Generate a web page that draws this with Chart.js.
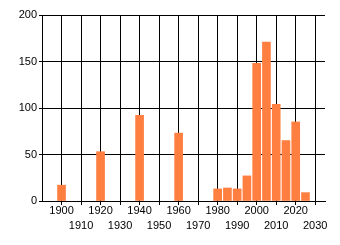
<!DOCTYPE html>
<html>
<head>
<meta charset="utf-8">
<script src="https://cdn.jsdelivr.net/npm/chart.js@4/dist/chart.umd.min.js"></script>
<style>
    html, body { margin: 0; padding: 0; background: #fff; }
    #wrap { width: 340px; height: 245px; }
</style>
</head>
<body>
<div id="wrap"><canvas id="chart"></canvas></div>
<script>
// data
const years = [1900, 1920, 1940, 1960, 1980, 1985, 1990, 1995, 2000, 2005, 2010, 2015, 2020, 2025];
const counts = [17, 53, 92, 73, 13, 14, 13, 27, 148, 171, 104, 65, 85, 9];
const xTicks = [1900, 1910, 1920, 1930, 1940, 1950, 1960, 1970, 1980, 1990, 2000, 2010, 2020, 2030];
const yTicks = [0, 50, 100, 150, 200];

const barColor = '#FF7F41';
const tickFont = { family: 'Liberation Sans, Arial, sans-serif', size: 11 };

const points = years.map((year, i) => ({ x: year, y: counts[i] }));

new Chart(document.getElementById('chart'), {
    type: 'bar',
    data: {
        datasets: [{
            data: points,
            backgroundColor: barColor,
            borderWidth: 0,
            barThickness: 8
        }]
    },
    options: {
        responsive: true,
        maintainAspectRatio: false,
        animation: false,
        layout: { padding: { top: 15, right: 15, bottom: 0, left: 0 } },
        plugins: {
            legend: { display: false },
            tooltip: { enabled: false }
        },
        scales: {
            x: {
                type: 'linear',
                offset: false,
                min: 1890,
                max: 2035,
                afterBuildTicks: axis => {
                    axis.ticks = xTicks.map(v => ({ value: v }));
                },
                afterFit: axis => { axis.height = 44; },
                grid: { color: '#000', lineWidth: 1, tickLength: 4, offset: false },
                border: { color: '#000', width: 1 },
                ticks: {
                    autoSkip: false,
                    maxRotation: 0,
                    padding: -2,
                    color: '#000',
                    font: { ...tickFont, lineHeight: 1.4 },
                    // stagger the labels on two rows
                    callback: v => (v % 20 === 0 ? String(v) : ['', String(v)])
                }
            },
            y: {
                min: 0,
                max: 200,
                afterBuildTicks: axis => {
                    axis.ticks = yTicks.map(v => ({ value: v }));
                },
                afterFit: axis => { axis.width = 42; },
                grid: { color: '#000', lineWidth: 1, tickLength: 3 },
                border: { color: '#000', width: 1 },
                ticks: {
                    padding: 2,
                    color: '#000',
                    font: tickFont
                }
            }
        }
    }
});
</script>
</body>
</html>
